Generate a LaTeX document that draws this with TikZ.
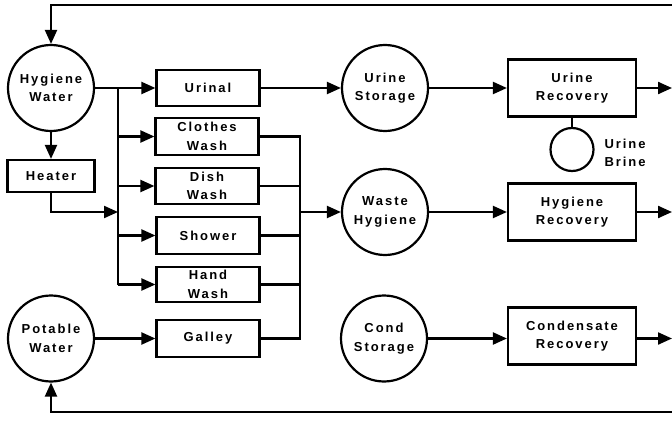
\documentclass[tikz,border=0pt]{standalone}
\usepackage{fontspec}
\setmainfont{Liberation Sans Bold}[LetterSpace=15]
\usetikzlibrary{arrows.meta}
\begin{document}
\begin{tikzpicture}[x=1pt,y=-1pt,
  every node/.style={font=\fontsize{13}{18.5}\selectfont, align=center},
  circ/.style={circle, draw, line width=2.2pt, minimum size=86pt, inner sep=0pt},
  box/.style={rectangle, draw, line width=2.2pt, minimum width=103pt, minimum height=36pt, inner sep=0pt},
  bigbox/.style={box, minimum width=128pt, minimum height=57pt},
  line/.style={line width=2.2pt},
  arr/.style={line, -{Triangle[length=14pt,width=12pt]}}]
\useasboundingbox (0,0) rectangle (672,425);
% nodes
\node[circ] (hw) at (51,88) {Hygiene\\Water};
\node[box, minimum width=87pt, minimum height=32pt] (heater) at (51,176) {Heater};
\node[box] (urinal) at (208,88) {Urinal};
\node[box, minimum height=37pt] (clothes) at (207,136.5) {Clothes\\Wash};
\node[box] (dish) at (207,186) {Dish\\Wash};
\node[box, minimum height=37pt] (shower) at (208,235.5) {Shower};
\node[box, minimum height=35pt] (hand) at (208,284.5) {Hand\\Wash};
\node[box, minimum height=37pt] (galley) at (208,338.5) {Galley};
\node[circ] (pw) at (51,338.5) {Potable\\Water};
\node[circ] (us) at (385,88) {Urine\\Storage};
\node[bigbox] (ur) at (572,88) {Urine\\Recovery};
\node[circ, minimum size=43pt] (ub) at (572,149.5) {};
\node[anchor=west, align=left] (ubl) at (601,153) {Urine\\Brine};
\node[circ] (wh) at (385,212) {Waste\\Hygiene};
\node[bigbox] (hr) at (572,212) {Hygiene\\Recovery};
\node[circ] (cs) at (384,338.5) {Cond\\Storage};
\node[bigbox] (cr) at (572,336) {Condensate\\Recovery};
% coordinates
\coordinate (topR) at (672,5);
\coordinate (botR) at (672,412);
\coordinate (busTop) at (118,88);
\coordinate (busBot) at (118,284.5);
\coordinate (heatJ) at (118,212);
\coordinate (colTop) at (300,136.5);
\coordinate (colBot) at (300,338.5);
\coordinate (urOut) at (672,88);
\coordinate (hrOut) at (672,212);
\coordinate (crOut) at (672,338.5);
% connectors
\draw[arr] (topR) -| (hw);
\draw[arr] (botR) -| (pw);
\draw[arr] (hw) -- (heater);
\draw[arr] (hw.east) -- (urinal.west);
\draw[line] (busTop) -- (busBot);
\draw[arr] (busTop |- clothes) -- (clothes.west);
\draw[arr] (busTop |- dish) -- (dish.west);
\draw[arr] (busTop |- shower) -- (shower.west);
\draw[arr] (busBot) -- (hand.west);
\draw[arr] (heater) |- (heatJ);
\draw[arr] (pw) -- (galley);
\draw[line] (clothes.east) -- (colTop) -- (colBot) -- (galley.east);
\draw[line] (dish.east) -- (dish.east -| colTop);
\draw[line] (shower.east) -- (shower.east -| colTop);
\draw[line] (hand.east) -- (hand.east -| colTop);
\draw[arr] (colTop |- wh) -- (wh);
\draw[arr] (urinal) -- (us);
\draw[arr] (us) -- (ur);
\draw[arr] (ur) -- (urOut);
\draw[line] (ur) -- (ub);
\draw[arr] (wh) -- (hr);
\draw[arr] (hr) -- (hrOut);
\draw[arr] (cs) -- (cs -| cr.west);
\draw[arr] (cr.east |- crOut) -- (crOut);
\end{tikzpicture}
\end{document}
